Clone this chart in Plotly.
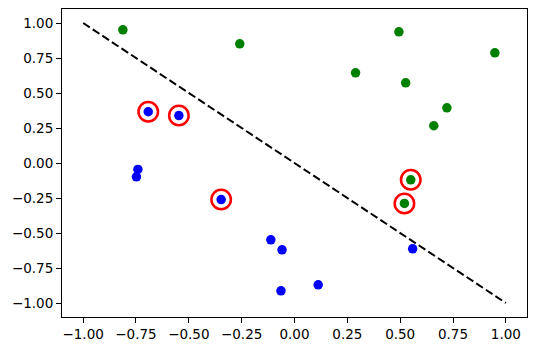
import plotly.graph_objects as go

green_x = [-0.812, -0.259, 0.494, 0.948, 0.289, 0.526, 0.721, 0.659, 0.550, 0.520]
green_y = [0.951, 0.851, 0.937, 0.787, 0.644, 0.573, 0.394, 0.266, -0.120, -0.289]
blue_x = [-0.692, -0.547, -0.741, -0.748, -0.347, -0.112, -0.059, -0.064, 0.112, 0.559]
blue_y = [0.366, 0.339, -0.046, -0.099, -0.261, -0.549, -0.620, -0.913, -0.870, -0.613]
circ_x = [-0.692, -0.547, -0.347, 0.550, 0.520]
circ_y = [0.366, 0.339, -0.261, -0.120, -0.289]
line_x = [-1.0, 1.0]
line_y = [1.0, -1.0]
ticks = [-1.0, -0.75, -0.5, -0.25, 0.0, 0.25, 0.5, 0.75, 1.0]

fig = go.Figure()
fig.add_trace(go.Scatter(x=line_x, y=line_y, mode="lines",
                         line=dict(color="black", width=2, dash="8px,3.5px")))
fig.add_trace(go.Scatter(x=green_x, y=green_y, mode="markers",
                         marker=dict(color="green", size=9.5)))
fig.add_trace(go.Scatter(x=blue_x, y=blue_y, mode="markers",
                         marker=dict(color="blue", size=9.5)))
fig.add_trace(go.Scatter(x=circ_x, y=circ_y, mode="markers",
                         marker=dict(color="rgba(0,0,0,0)", size=19.5,
                                     line=dict(color="red", width=2.5))))

axis_common = dict(range=[-1.1, 1.1], tickvals=ticks, tickformat=".2f",
                   showgrid=False, zeroline=False, showline=True, mirror=True,
                   linecolor="black", linewidth=1, ticks="outside", ticklen=5,
                   tickcolor="black", tickwidth=1, automargin=False,
                   tickfont=dict(family="DejaVu Sans", size=13.5, color="black"))
fig.update_xaxes(**axis_common)
fig.update_yaxes(**axis_common)
fig.update_layout(width=537, height=351, showlegend=False,
                  plot_bgcolor="white", paper_bgcolor="white",
                  margin=dict(l=62, r=10, t=9, b=34))
fig.write_html("out.html", config={"displayModeBar": False},
               post_script="document.body.style.margin='0';document.body.style.overflow='hidden';")
